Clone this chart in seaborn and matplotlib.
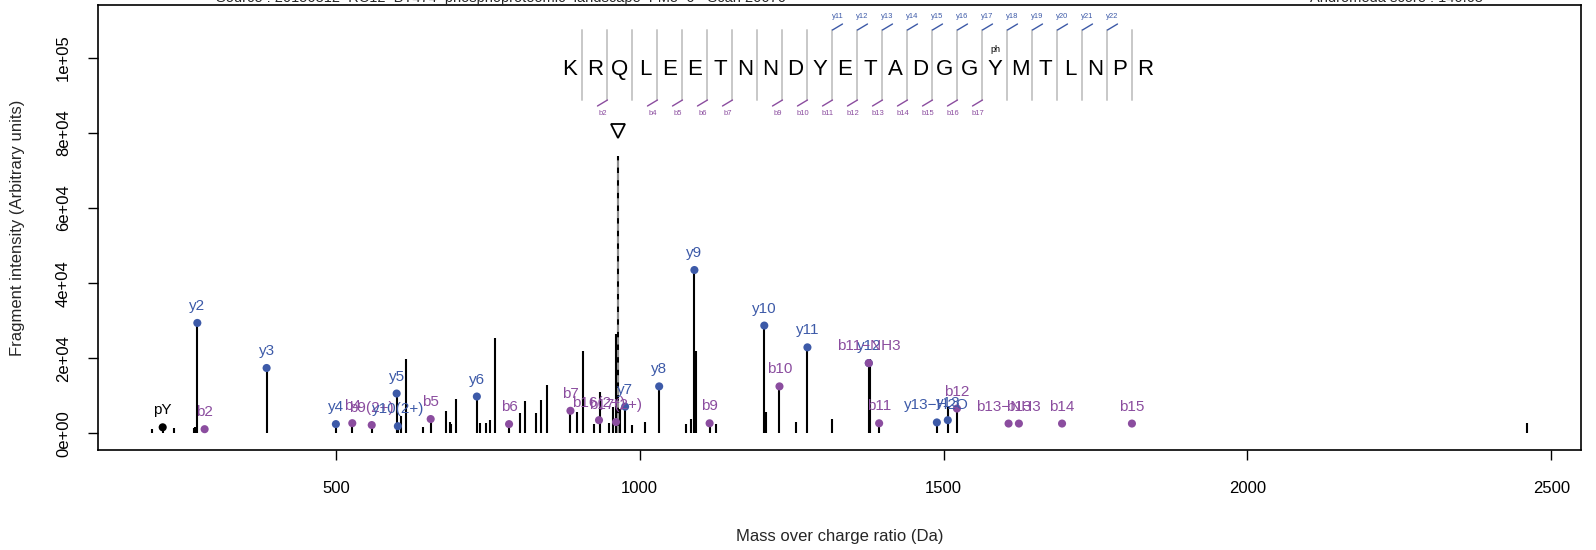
import matplotlib
matplotlib.use("Agg")
import numpy as np
import pandas as pd
import matplotlib.pyplot as plt
import seaborn as sns

# --- data ------------------------------------------------------------------
peak_mz = [198, 215, 234, 266, 268, 270, 272, 284, 386, 500, 527, 559, 600, 602,
           607, 615, 644, 656, 682, 688, 690, 698, 732, 737, 747, 754, 762, 785,
           803, 812, 829, 838, 847, 886, 896, 906, 925, 934, 949, 956, 961, 968,
           976, 988, 1009, 1032, 1076, 1084, 1090, 1093, 1115, 1125, 1205, 1208,
           1230, 1258, 1276, 1316, 1377, 1379, 1394, 1489, 1508, 1522, 2460]
peak_int = [1100, 1600, 1300, 1400, 1800, 1500, 29400, 1100, 17400, 2450, 2700,
            2200, 10600, 1900, 4500, 19900, 1800, 3800, 6000, 2900, 2600, 9200,
            9800, 2700, 2700, 3600, 25300, 2450, 5400, 8700, 5500, 8800, 12900,
            6000, 5800, 22000, 2400, 10900, 2700, 6900, 26500, 6500, 7100, 2300,
            2900, 12500, 2400, 3800, 43500, 22000, 2670, 2400, 28700, 5800, 12500,
            3100, 22900, 3800, 18700, 19800, 2670, 2900, 7000, 6600, 2700]

precursor_mz = 965
precursor_int = 74000
precursor_mark = 80500

ion_labels = ["pY", "y2", "b2", "y3", "y4", "b4", "b9(2+)", "y5", "y10(2+)", "b5",
              "y6", "b6", "b7", "b16(2+)", "b17(2+)", "y7", "y8", "y9", "b9", "y10",
              "b10", "y11", "y12", "b11\u2212NH3", "b11", "y13\u2212H2O", "y13",
              "b12", "b13\u2212NH3", "b13", "b14", "b15"]
ion_mz = [215, 272, 284, 386, 500, 527, 559, 600, 602, 656, 732, 785, 886, 933,
          961, 976, 1032, 1090, 1115, 1205, 1230, 1276, 1377, 1377, 1394, 1489,
          1507, 1522, 1607, 1624, 1695, 1810]
ion_int = [1600, 29400, 1100, 17400, 2450, 2700, 2200, 10600, 1900, 3800, 9800,
           2450, 6000, 3500, 3000, 7100, 12500, 43500, 2670, 28700, 12500, 22900,
           18700, 18700, 2670, 2900, 3500, 6600, 2600, 2600, 2600, 2600]
ion_kind = ["other", "y", "b", "y", "y", "b", "b", "y", "y", "b", "y", "b", "b",
            "b", "b", "y", "y", "y", "b", "y", "b", "y", "y", "b", "b", "y", "y",
            "b", "b", "b", "b", "b"]

sequence = list("KRQLEETNNDYETADGGYMTLNPR")
phospho_site = 17
b_sites = [2, 4, 5, 6, 7, 9, 10, 11, 12, 13, 14, 15, 16, 17]
y_sites = list(range(11, 23))

x_ticks = [500, 1000, 1500, 2000, 2500]
y_ticks = [0, 20000, 40000, 60000, 80000, 100000]
y_tick_labels = ["0e+00", "2e+04", "4e+04", "6e+04", "8e+04", "1e+05"]

blue = "#3d5aa8"
purple = "#8b4d9f"
kind_colors = {"b": purple, "y": blue, "other": "black"}

# --- figure ------------------------------------------------------------------
sns.set_theme(style="ticks")
plt.rcParams["font.family"] = ["Liberation Sans", "DejaVu Sans"]

fig, ax = plt.subplots(figsize=(15.96, 5.5), dpi=100)
fig.subplots_adjust(left=0.0612, right=0.9906, bottom=0.1818, top=0.9909)

ax.vlines(peak_mz, 0, peak_int, colors="black", lw=1.5)
ax.vlines(precursor_mz, 0, precursor_int, colors="black", lw=1.5)
ax.vlines(precursor_mz, 0, precursor_int, colors="#a0a0a0",
          linestyles=(0, (4, 3)), lw=1.3)
ax.plot(precursor_mz, precursor_mark, marker="v", ms=10, mfc="white",
        mec="black", mew=1.3, zorder=4)

ions = pd.DataFrame({"mz": ion_mz, "intensity": ion_int,
                     "label": ion_labels, "kind": ion_kind})
sns.scatterplot(data=ions, x="mz", y="intensity", hue="kind",
                palette=kind_colors, s=34, edgecolor="none", legend=False,
                ax=ax, zorder=3)
for _, r in ions.iterrows():
    ax.annotate(r["label"], (r["mz"], r["intensity"]), xytext=(0, 17),
                textcoords="offset pixels", ha="center", va="center",
                fontsize=11, color=kind_colors[r["kind"]])

ax.set_xlim(108, 2549)
ax.set_ylim(-4450, 114100)
ax.set_xticks(x_ticks)
ax.set_xticklabels([str(t) for t in x_ticks])
ax.set_yticks(y_ticks)
ax.set_yticklabels(y_tick_labels, rotation=90, va="center")
ax.tick_params(direction="out", length=7.2, width=1, labelsize=12, pad=12,
               colors="black")
ax.tick_params(axis="x", pad=15)
for sp in ax.spines.values():
    sp.set_visible(True)
    sp.set_color("black")
    sp.set_linewidth(1.2)
ax.set_xlabel("Mass over charge ratio (Da)", fontsize=12, labelpad=24)
ax.set_ylabel("Fragment intensity (Arbitrary units)", fontsize=12, labelpad=22)

# --- peptide sequence with fragment coverage --------------------------------
ax_w, ax_h = 1483.3, 445.0
x0 = (570 - 97.7) / ax_w
step = 25.0 / ax_w


def fy(px):
    return (450 - px) / ax_h


tr = ax.transAxes
for i, aa in enumerate(sequence):
    ax.text(x0 + i * step, fy(69), aa, transform=tr, ha="center", va="center",
            fontsize=16, color="black")
ax.text(x0 + phospho_site * step, fy(49), "ph", transform=tr, ha="center",
        va="center", fontsize=6.5, color="black")
dx, dy = 10 / ax_w, 6 / ax_h
sep_top, sep_bot = 30, 100
for i in range(1, len(sequence)):
    xs = x0 + (i - 0.5) * step
    ax.plot([xs, xs], [fy(sep_top), fy(sep_bot)], transform=tr, color="#c8c8c8",
            lw=1.4, clip_on=False)
    if i in y_sites:
        ax.plot([xs, xs + dx], [fy(sep_top), fy(sep_top) + dy], transform=tr,
                color=blue, lw=1, clip_on=False)
        ax.text(xs + 5 / ax_w, fy(16), f"y{i}", transform=tr, ha="center",
                va="center", fontsize=5.5, color=blue)
    if i in b_sites:
        ax.plot([xs, xs - dx], [fy(sep_bot), fy(sep_bot) - dy], transform=tr,
                color=purple, lw=1, clip_on=False)
        ax.text(xs - 5 / ax_w, fy(113), f"b{i}", transform=tr, ha="center",
                va="center", fontsize=5.5, color=purple)

# header lines (mostly outside the canvas, as in the source)
fig.text(0.314, 1 - 2 / 550, "Source : 20150312_RC12_BT474_phosphoproteomic_landscape_FM5_6 - Scan 20070",
         ha="center", va="baseline", fontsize=10.5)
fig.text(0.875, 1 - 2 / 550, "Andromeda score : 140.68",
         ha="center", va="baseline", fontsize=10.5)

fig.savefig("out.png", dpi=100)
